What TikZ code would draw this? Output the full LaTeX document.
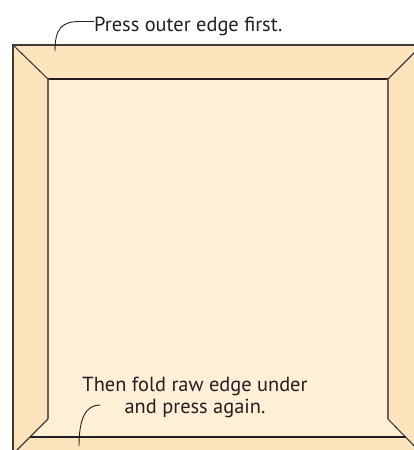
\documentclass[tikz,border=0pt]{standalone}
\usepackage{fontspec}
\setmainfont{PT Sans}
\definecolor{outerfill}{HTML}{FDE4BC}
\definecolor{innerfill}{HTML}{FEEFD7}
\definecolor{edgedark}{HTML}{3E3A39}
\definecolor{edgeside}{HTML}{6B625A}
\definecolor{txt}{HTML}{231F20}
\begin{document}
\begin{tikzpicture}[x=1pt,y=-1pt,
  outerline/.style={draw=edgedark,line width=1.6pt},
  diag/.style={draw=edgedark,line width=1.1pt},
  innertop/.style={draw=txt,line width=1.1pt},
  innerside/.style={draw=edgeside,line width=1.6pt},
  leader/.style={draw=txt,line width=0.9pt},
  lbl/.style={text=txt,font=\fontsize{20.4}{22}\selectfont,inner sep=0pt}]
\useasboundingbox (0,0) rectangle (414,450);
\clip (0,0) rectangle (414,450);
% corners
\coordinate (OTL) at (13,45);
\coordinate (OTR) at (422,45);
\coordinate (OBL) at (13,454);
\coordinate (OBR) at (422,454);
\coordinate (ITL) at (48,79);
\coordinate (ITR) at (388,79);
\coordinate (IBL) at (48,419);
\coordinate (IBR) at (388,419);
\coordinate (FL) at (30,437);
\coordinate (FR) at (406,437);
% fills
\fill[outerfill] (OTL) rectangle (OBR);
\fill[innerfill] (ITL) -- (ITR) -- (IBR) -- (FR) -- (FL) -- (IBL) -- cycle;
% lines
\draw[diag] (OTL) -- (ITL);
\draw[diag] (OTR) -- (ITR);
\draw[diag] (IBL) -- (OBL);
\draw[diag] (IBR) -- (OBR);
\draw[innertop] (ITL) -- (ITR);
\draw[innertop] (FL) -- (FR);
\draw[innerside] (ITL) -- (IBL);
\draw[innerside] (ITR) -- (IBR);
\draw[outerline] (OBL) -- (OTL) -- (OTR);
% labels
\node[lbl,anchor=base west] (top) at (94,31) {Press outer edge first.};
\node[lbl,align=center,anchor=center] (bottom) at (195,397) {Then fold raw edge under\\and press again.};
\coordinate (ta) at (55,51);
\coordinate (ba) at (79,446);
\draw[leader] (ta) .. controls (55,28) and (62,21.5) .. (80,21.5) -- (top.west |- 0,21.5);
\draw[leader] (ba) .. controls (79,418) and (86,405) .. (100,405);
\end{tikzpicture}
\end{document}
